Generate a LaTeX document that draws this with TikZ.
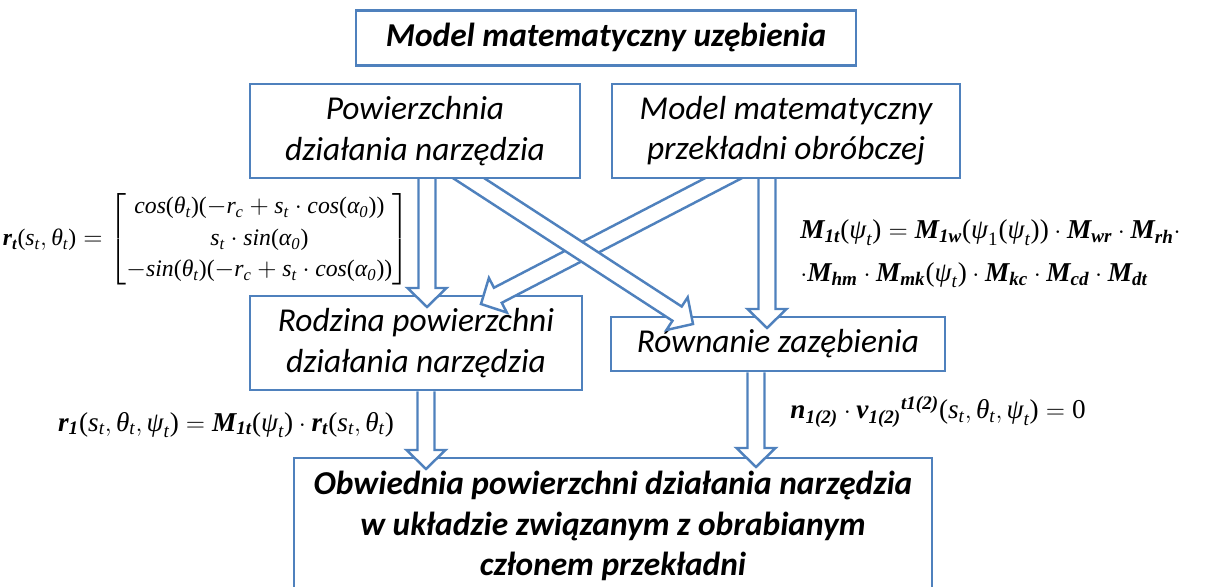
\documentclass[tikz,border=0pt]{standalone}
\usepackage{amsmath}
\usepackage{fontspec}
\setmainfont{Carlito}
\newfontfamily\tms{Liberation Serif}
\usepackage{xcolor}
\usepackage{tikz}
\usetikzlibrary{calc}
\definecolor{frameblue}{HTML}{4F81BD}
\pgfdeclarelayer{front}
\pgfsetlayers{main,front}
\newcommand{\vi}[1]{\text{\tms\itshape #1}}
\newcommand{\bi}[1]{\text{\tms\bfseries\itshape #1}}
\newcommand{\ro}[1]{\text{\tms #1}}
\newcommand{\lp}{\ro{(}}
\newcommand{\rp}{\ro{)}}
\newcommand{\vs}{\vi{s}_{\vi{t}}}
\newcommand{\vth}{\vi{θ}_{\vi{t}}}
\newcommand{\vps}{\vi{ψ}_{\vi{t}}}
\newcommand{\blockarrow}[2]{%
  \draw[blk] ($(#1)!0.17cm!90:(#2)$) -- ($($(#2)!0.38cm!(#1)$)!0.17cm!90:(#2)$) -- ($($(#2)!0.38cm!(#1)$)!0.39cm!90:(#2)$) -- (#2) -- ($($(#2)!0.38cm!(#1)$)!0.39cm!-90:(#2)$) -- ($($(#2)!0.38cm!(#1)$)!0.17cm!-90:(#2)$) -- ($(#1)!0.17cm!-90:(#2)$);}

\begin{document}
\begin{tikzpicture}[x=0.02cm,y=-0.02cm,box/.style={draw=frameblue,line width=1.6pt,fill=white,align=center,inner sep=0pt,font=\fontsize{19}{23}\selectfont\itshape},head/.style={box,font=\fontsize{19}{23}\selectfont\bfseries\itshape},blk/.style={draw=frameblue,line width=1.4pt,fill=white,line join=miter},formula/.style={inner sep=0pt,font=\fontsize{15.5}{24}\selectfont}]
\useasboundingbox[clip] (0,0) rectangle (1211,587);
\begin{pgfonlayer}{front}
\node[head,minimum width=500*0.02cm,minimum height=55*0.02cm] (title) at (606,38) {Model matematyczny uzębienia};
\node[box,minimum width=330*0.02cm,minimum height=94*0.02cm] (pow) at (415,131) {Powierzchnia\\działania narzędzia};
\node[box,minimum width=348*0.02cm,minimum height=94*0.02cm] (model) at (786,131) {Model matematyczny\\przekładni obróbczej};
\end{pgfonlayer}
\node[box,minimum width=332*0.02cm,minimum height=94*0.02cm] (fam) at (416,343) {Rodzina powierzchni\\działania narzędzia};
\node[box,minimum width=334*0.02cm,minimum height=54*0.02cm] (mesh) at (778,344) {Równanie zazębienia};
\node[head,minimum width=638*0.02cm,minimum height=136*0.02cm] (env) at (613,526) {Obwiednia powierzchni działania narzędzia\\w układzie związanym z obrabianym\\członem przekładni};
% wzory
\node[formula,font=\fontsize{13.5}{15}\selectfont] (rt) at (206,239) {\renewcommand{\arraystretch}{1.2}$\bi{r}_{\bi{t}}\lp\vs,\vth\rp=\begin{bmatrix}\vi{cos}\lp\vth\rp\lp{-}\vi{r}_{\vi{c}}+\vs\cdot\vi{cos}\lp\vi{α}_{\vi{0}}\rp\rp\\ \vs\cdot\vi{sin}\lp\vi{α}_{\vi{0}}\rp\\ -\vi{sin}\lp\vth\rp\lp{-}\vi{r}_{\vi{c}}+\vs\cdot\vi{cos}\lp\vi{α}_{\vi{0}}\rp\rp\end{bmatrix}$};
\node[formula,align=left,anchor=west] (mt) at (800,254) {$\bi{M}_{\bi{1t}}\lp\vps\rp=\bi{M}_{\bi{1w}}\lp\vi{ψ}_{\ro{1}}\lp\vps\rp\rp\cdot\bi{M}_{\bi{wr}}\cdot\bi{M}_{\bi{rh}}\cdot$\\$\cdot\bi{M}_{\bi{hm}}\cdot\bi{M}_{\bi{mk}}\lp\vps\rp\cdot\bi{M}_{\bi{kc}}\cdot\bi{M}_{\bi{cd}}\cdot\bi{M}_{\bi{dt}}$};
\node[formula] (r1) at (226,425) {$\bi{r}_{\bi{1}}\lp\vs,\vth,\vps\rp=\bi{M}_{\bi{1t}}\lp\vps\rp\cdot\bi{r}_{\bi{t}}\lp\vs,\vth\rp$};
\node[formula,anchor=west] (nv) at (790,412) {$\bi{n}_{\bi{1(2)}}\cdot\bi{v}_{\bi{1(2)}}{}^{\bi{t1(2)}}\lp\vs,\vth,\vps\rp=\ro{0}$};
% strzalki
\coordinate (a1s) at ([xshift=12*0.02cm,yshift=10*0.02cm]pow.south);
\coordinate (a1e) at (427,307);
\coordinate (a2s) at ([xshift=34*0.02cm,yshift=14*0.02cm]pow.south);
\coordinate (a2e) at (693,324);
\coordinate (a3s) at ([xshift=-38*0.02cm,yshift=14*0.02cm]model.south);
\coordinate (a3e) at (481,304);
\coordinate (a4s) at ([xshift=-19*0.02cm,yshift=10*0.02cm]model.south);
\coordinate (a4e) at (767,328);
\coordinate (a5e) at (426,469);
\coordinate (a6e) at (756,467);
\blockarrow{a1s}{a1e}
\blockarrow{a3s}{a3e}
\blockarrow{a2s}{a2e}
\blockarrow{a4s}{a4e}
\blockarrow{fam.south-|a5e}{a5e}
\blockarrow{mesh.south-|a6e}{a6e}
\end{tikzpicture}
\end{document}
